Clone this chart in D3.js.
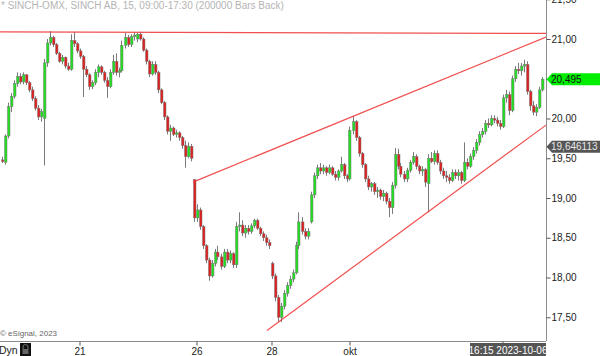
<!DOCTYPE html>
<html>
<head>
<meta charset="utf-8">
<script src="https://cdn.jsdelivr.net/npm/d3@7"></script>
<style>
body { margin: 0; background: #fff; }
svg { display: block; font-family: "Liberation Sans", Arial, sans-serif; }
</style>
</head>
<body>
<div id="chart"></div>
<script>
/////////////////////////////////////////////
//            CHART DATA                   //
/////////////////////////////////////////////

// 15 minute bars, [open, high, low, close]
var bars = [
  [19.48,19.52,19.44,19.46],[19.45,19.80,19.42,19.78],[19.78,20.20,19.75,20.15],[20.15,20.32,20.08,20.28],
  [20.28,20.48,20.25,20.44],[20.44,20.58,20.40,20.53],[20.53,20.57,20.43,20.46],[20.46,20.58,20.43,20.55],
  [20.55,20.56,20.42,20.45],[20.45,20.47,20.33,20.36],[20.36,20.40,20.22,20.25],[20.25,20.28,20.10,20.13],
  [20.13,20.17,19.98,20.02],[20.02,20.12,19.96,20.09],[20.00,20.75,19.41,20.70],[20.70,21.00,20.65,20.95],
  [20.95,21.10,20.92,21.02],[21.02,21.04,20.90,20.93],[20.93,20.95,20.80,20.82],[20.82,20.84,20.70,20.72],
  [20.72,20.80,20.68,20.77],[20.77,20.78,20.63,20.66],[20.66,20.70,20.60,20.62],[20.62,21.06,20.60,20.98],
  [20.98,21.09,20.90,20.94],[20.94,20.96,20.82,20.85],[20.85,20.88,20.75,20.78],[20.78,20.80,20.27,20.62],
  [20.62,20.66,20.52,20.55],[20.55,20.57,20.36,20.40],[20.40,20.48,20.37,20.45],[20.45,20.62,20.42,20.58],
  [20.58,20.68,20.52,20.65],[20.65,20.67,20.55,20.58],[20.58,20.60,20.45,20.48],[20.48,20.52,20.26,20.40],
  [20.40,20.62,20.38,20.58],[20.58,20.80,20.55,20.72],[20.72,20.82,20.54,20.58],[20.58,20.64,20.52,20.60],
  [20.60,20.98,20.58,20.92],[20.92,21.08,20.88,21.02],[21.02,21.05,20.90,20.93],[20.93,21.06,20.90,21.03],
  [21.03,21.09,20.98,21.05],[21.00,21.08,20.96,21.06],[21.06,21.09,20.98,21.00],[21.00,21.02,20.84,20.86],
  [20.86,20.88,20.68,20.72],[20.72,20.74,20.52,20.56],[20.56,20.72,20.54,20.68],[20.68,20.72,20.55,20.58],
  [20.58,20.60,20.32,20.36],[20.36,20.38,20.18,20.20],[20.20,20.22,19.98,20.02],[20.02,20.04,19.80,19.84],
  [19.84,19.92,19.72,19.88],[19.88,19.90,19.78,19.80],[19.80,19.86,19.76,19.82],[19.82,19.84,19.72,19.76],
  [19.76,19.78,19.62,19.66],[19.66,19.72,19.38,19.52],[19.52,19.70,19.50,19.65],[19.65,19.68,19.46,19.50],
  [19.23,19.24,18.70,18.75],[18.75,18.92,18.70,18.85],[18.85,18.88,18.60,18.64],[18.64,18.66,18.36,18.40],
  [18.40,18.42,18.18,18.22],[18.22,18.25,17.96,18.02],[18.02,18.22,18.00,18.18],[18.18,18.36,18.14,18.32],
  [18.32,18.40,18.22,18.26],[18.26,18.30,18.10,18.14],[18.14,18.36,18.12,18.32],[18.32,18.36,18.18,18.22],
  [18.22,18.34,18.18,18.30],[18.30,18.32,18.12,18.16],[18.16,18.70,18.12,18.64],[18.64,18.82,18.58,18.66],
  [18.66,18.72,18.52,18.56],[18.56,18.66,18.50,18.62],[18.62,18.66,18.54,18.58],[18.58,18.68,18.55,18.65],
  [18.65,18.74,18.62,18.72],[18.72,18.74,18.60,18.62],[18.62,18.64,18.52,18.55],[18.55,18.58,18.46,18.50],
  [18.50,18.54,18.40,18.44],[18.44,18.48,18.36,18.40],[18.18,18.20,17.98,18.02],[18.02,18.05,17.70,17.75],
  [17.75,17.78,17.44,17.50],[17.50,17.68,17.44,17.64],[17.64,17.84,17.60,17.80],[17.80,17.94,17.76,17.90],
  [17.90,18.02,17.86,17.98],[17.98,18.10,17.94,18.06],[18.06,18.45,18.04,18.40],[18.40,18.82,18.36,18.70],
  [18.70,18.76,18.54,18.58],[18.58,18.62,18.48,18.52],[18.52,18.62,18.48,18.58],[18.70,19.08,18.68,19.04],
  [19.04,19.32,19.00,19.28],[19.28,19.42,19.24,19.38],[19.38,19.44,19.30,19.34],[19.34,19.42,19.30,19.38],
  [19.38,19.40,19.28,19.32],[19.32,19.42,19.30,19.38],[19.38,19.40,19.28,19.30],[19.30,19.34,19.22,19.26],
  [19.26,19.36,19.22,19.34],[19.34,19.52,19.32,19.42],[19.42,19.44,19.24,19.28],[19.28,19.30,19.20,19.24],
  [19.24,19.90,19.22,19.85],[19.85,20.03,19.80,19.96],[19.96,19.98,19.72,19.76],[19.76,19.78,19.52,19.56],
  [19.56,19.58,19.38,19.42],[19.42,19.44,19.20,19.24],[19.24,19.28,19.10,19.14],[19.14,19.20,19.08,19.18],
  [19.18,19.20,19.04,19.08],[19.08,19.14,19.00,19.10],[19.10,19.12,18.98,19.02],[19.02,19.10,18.96,19.06],
  [19.06,19.08,18.92,18.96],[18.96,19.00,18.76,18.88],[18.88,19.20,18.80,19.16],[19.16,19.63,19.12,19.55],
  [19.55,19.62,19.36,19.40],[19.40,19.44,19.26,19.30],[19.30,19.34,19.20,19.24],[19.24,19.38,19.20,19.35],
  [19.35,19.48,19.32,19.45],[19.45,19.58,19.42,19.52],[19.52,19.55,19.36,19.40],[19.40,19.42,19.30,19.34],
  [19.34,19.40,19.28,19.36],[19.36,19.38,19.14,19.20],[19.18,19.55,18.82,19.50],[19.50,19.58,19.44,19.46],
  [19.46,19.60,19.42,19.56],[19.56,19.60,19.42,19.45],[19.45,19.48,19.30,19.34],[19.34,19.38,19.24,19.28],
  [19.28,19.34,19.20,19.26],[19.26,19.30,19.18,19.22],[19.22,19.36,19.20,19.32],[19.32,19.36,19.24,19.28],
  [19.28,19.36,19.22,19.32],[19.32,19.34,19.18,19.22],[19.22,19.70,19.20,19.45],[19.45,19.50,19.36,19.40],
  [19.40,19.56,19.38,19.52],[19.52,19.64,19.48,19.60],[19.60,19.74,19.56,19.70],[19.70,19.84,19.66,19.80],
  [19.80,19.88,19.76,19.84],[19.84,19.98,19.80,19.94],[19.94,20.00,19.88,19.92],[19.92,20.04,19.90,20.00],
  [20.00,20.04,19.94,19.98],[19.98,20.02,19.90,19.94],[19.94,19.98,19.86,19.90],[19.90,20.30,19.88,20.26],
  [20.26,20.36,20.20,20.30],[20.30,20.34,20.04,20.10],[20.10,20.54,20.08,20.50],[20.50,20.66,20.46,20.62],
  [20.62,20.70,20.56,20.60],[20.60,20.70,20.54,20.66],[20.66,20.74,20.58,20.68],[20.68,20.72,20.30,20.34],
  [20.34,20.36,20.10,20.16],[20.16,20.22,20.04,20.08],[20.08,20.18,20.03,20.14],[20.14,20.40,20.12,20.36],
  [20.36,20.52,20.34,20.495]
];

var priceTicks = [17.5, 18, 18.5, 19, 19.5, 20, 20.5, 21, 21.5];
var dayTickBars = [26, 65, 90, 116, 167];
var dayTickLabels = ["21", "26", "28", "okt", ""];

// trend lines as [bar index, price] pairs
var resistanceLine = [[-0.5, 21.09], [181.5, 21.07]];
var channelTop = [[63.8, 19.20], [181.5, 21.025]];
var channelBottom = [[88.5, 17.335], [181.5, 19.917]];

var lastPrice = 20.495;
var markerPrice = 19.646113;
var titleText = "* SINCH-OMX, SINCH AB, 15, 09:00-17:30 (200000 Bars Back)";
var dateText = "16:15 2023-10-06";

/////////////////////////////////////////////
//            SET UP                       //
/////////////////////////////////////////////
var width = 600, height = 356;
var plotRight = 546, plotBottom = 341;

var svg = d3.select("#chart").append("svg")
  .attr("width", width)
  .attr("height", height);

var x = d3.scaleLinear()
  .domain([-0.5, bars.length + 0.5])
  .range([0, plotRight]);

var y = d3.scaleLinear()
  .domain([17.5, 21])
  .range([317.3, 39]);

var fmt = function (d) { return d3.format(".2f")(d).replace(".", ","); };

svg.append("defs").append("clipPath")
  .attr("id", "clip")
  .append("rect")
  .attr("width", plotRight)
  .attr("height", plotBottom);

// title watermark
svg.append("text")
  .attr("x", 1).attr("y", 9)
  .attr("font-size", "10px")
  .attr("fill", "#b4b4b4")
  .text(titleText);

svg.append("text")
  .attr("x", 0).attr("y", 336)
  .attr("font-size", "8px")
  .attr("fill", "#666")
  .text("\u00a9 eSignal, 2023");

// candles
var plot = svg.append("g").attr("clip-path", "url(#clip)");

var candle = plot.selectAll("g.bar")
  .data(bars)
  .enter().append("g")
  .attr("class", "bar");

candle.append("line")
  .attr("x1", (d, i) => Math.round(x(i)) + 0.5)
  .attr("x2", (d, i) => Math.round(x(i)) + 0.5)
  .attr("y1", d => y(d[1]))
  .attr("y2", d => y(d[2]))
  .attr("stroke", "#7a7a7a")
  .attr("stroke-width", 1);

candle.append("rect")
  .attr("x", (d, i) => Math.round(x(i)) - 0.5)
  .attr("width", 2.5)
  .attr("y", d => y(Math.max(d[0], d[3])))
  .attr("height", d => Math.max(1, Math.abs(y(d[0]) - y(d[3]))))
  .attr("fill", d => d[3] >= d[0] ? "#22dd22" : "#dd2020")
  .attr("stroke", "#7a7a7a")
  .attr("stroke-width", 0.5);

// trend lines
var line = d3.line()
  .x(d => x(d[0]))
  .y(d => y(d[1]));

[resistanceLine, channelTop, channelBottom].forEach(function (pts) {
  plot.append("path")
    .datum(pts)
    .attr("d", line)
    .attr("fill", "none")
    .attr("stroke", "#f03c3c")
    .attr("stroke-opacity", 0.9)
    .attr("stroke-width", 1.2);
});

// right price axis
svg.append("line")
  .attr("x1", plotRight + 0.5).attr("x2", plotRight + 0.5)
  .attr("y1", 0).attr("y2", plotBottom)
  .attr("stroke", "#8c8c8c");

// the 20,50 label sits under the last price tag, as on the original
var yAxis = svg.append("g")
  .attr("transform", "translate(" + (plotRight + 0.5) + ",0)")
  .call(d3.axisRight(y).tickValues(priceTicks).tickSize(4).tickPadding(1)
    .tickFormat(d => Math.abs(y(d) - y(lastPrice)) < 8 ? "" : fmt(d)));
yAxis.select(".domain").remove();
yAxis.selectAll("line").attr("stroke", "#555");
yAxis.selectAll("text")
  .attr("font-size", "10px")
  .attr("font-family", "Liberation Sans, Arial, sans-serif")
  .attr("fill", "#222");

// bottom time axis
svg.append("line")
  .attr("x1", 0).attr("x2", plotRight)
  .attr("y1", plotBottom + 0.5).attr("y2", plotBottom + 0.5)
  .attr("stroke", "#8c8c8c");

var xAxis = svg.append("g")
  .attr("transform", "translate(0," + (plotBottom + 0.5) + ")")
  .call(d3.axisBottom(x).tickValues(dayTickBars).tickSize(4).tickPadding(2)
    .tickFormat((d, i) => dayTickLabels[i]));
xAxis.select(".domain").remove();
xAxis.selectAll("line").attr("stroke", "#555");
xAxis.selectAll("text")
  .attr("font-size", "10px")
  .attr("font-family", "Liberation Sans, Arial, sans-serif")
  .attr("fill", "#222");

// "Dyn" and lock icon
svg.append("text")
  .attr("x", -1).attr("y", 354)
  .attr("font-size", "10.5px")
  .attr("fill", "#222")
  .text("Dyn");

svg.append("rect")
  .attr("x", 20).attr("y", 343).attr("width", 11).attr("height", 13)
  .attr("fill", "#111");
svg.append("path")
  .attr("d", "M23,349 v-2 a2.5,2.5 0 0 1 5,0 v2")
  .attr("fill", "none").attr("stroke", "#777").attr("stroke-width", 1);
svg.append("rect")
  .attr("x", 22.5).attr("y", 349).attr("width", 6).attr("height", 5)
  .attr("fill", "#666");

// date box
svg.append("rect")
  .attr("x", 470).attr("y", 343).attr("width", plotRight - 470).attr("height", 13)
  .attr("fill", "#555");
svg.append("text")
  .attr("x", 508).attr("y", 353.5)
  .attr("text-anchor", "middle")
  .attr("font-size", "10px")
  .attr("fill", "#fff")
  .text(dateText);

// price tags
function tag(price, fill, textFill, label) {
  var cy = y(price);
  svg.append("path")
    .attr("d", "M" + (plotRight + 0.5) + "," + cy +
      " L" + (plotRight + 6) + "," + (cy - 6) +
      " L" + width + "," + (cy - 6) +
      " L" + width + "," + (cy + 6) +
      " L" + (plotRight + 6) + "," + (cy + 6) + " Z")
    .attr("fill", fill);
  svg.append("text")
    .attr("x", plotRight + 5).attr("y", cy + 3.5)
    .attr("font-size", "10px")
    .attr("fill", textFill)
    .text(label);
}
tag(lastPrice, "#00ee00", "#111", d3.format(".3f")(lastPrice).replace(".", ","));
tag(markerPrice, "#555", "#e8e8e8", d3.format(".6f")(markerPrice).replace(".", ","));
</script>
</body>
</html>
